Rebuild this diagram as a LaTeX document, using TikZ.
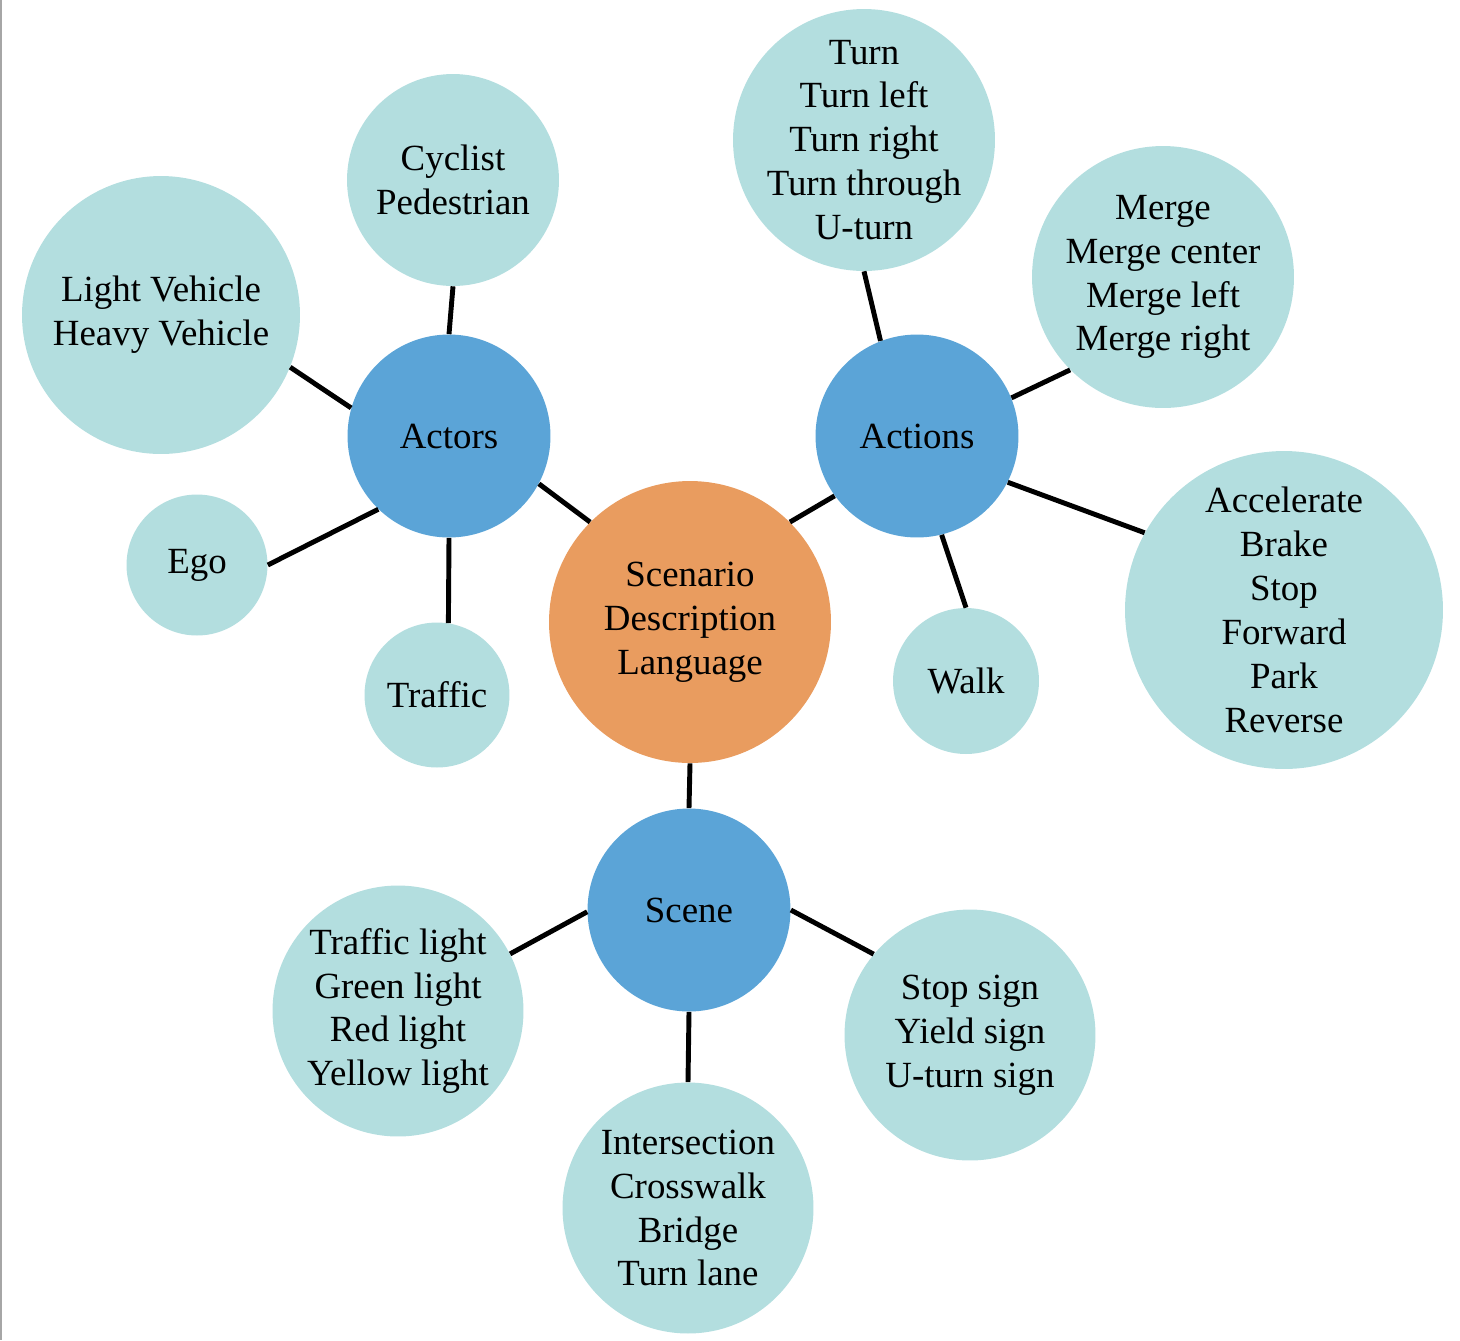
\documentclass[tikz,border=0pt]{standalone}
\usepackage{fontspec}
\setmainfont{Liberation Serif}
\usepackage{tikz}
\usetikzlibrary{positioning}
\usepackage{xcolor}
\definecolor{leafteal}{HTML}{B3DEDF}
\definecolor{hubblue}{HTML}{5BA4D7}
\definecolor{rootorange}{HTML}{E99C5F}

\begin{document}
\begin{tikzpicture}[
  x=0.02cm, y=-0.02cm,
  blob/.style = {circle, inner sep=0pt, align=center,
                 font=\fontsize{21}{25}\selectfont},
  leaf/.style = {blob, fill=leafteal, minimum size=#1},
  hub/.style  = {blob, fill=hubblue, minimum size=4.06cm},
  root/.style = {blob, fill=rootorange, minimum size=5.64cm},
  wire/.style = {draw=black, line width=2.8pt},
]
\useasboundingbox (0,0) rectangle (1460,1340);
\draw[gray!70, line width=1.2pt] (1,0) -- (1,1340);

% ========== Centre ==========
\node[root] (sdl) at (690, 622) {Scenario\\Description\\Language};

\node[hub] (actors)  at (449, 436) {Actors};
\node[hub] (actions) at (917, 436) {Actions};
\node[hub] (scene)   at (689, 910) {Scene};

% ========== Actors (left) ==========
\node[leaf=4.24cm] (ped)   at (453, 180) {Cyclist\\Pedestrian};
\node[leaf=5.56cm] (veh)   at (161, 315) {Light Vehicle\\Heavy Vehicle};
\node[leaf=2.82cm] (ego)   at (197, 565) {Ego};
\node[leaf=2.90cm] (traf)  at (437, 695) {Traffic};

% ========== Actions (right) ==========
% (five lines: negative inner sep keeps the circle at its set size)
\node[leaf=5.24cm, inner sep=-8pt] (turn) at (864, 140)
  {Turn\\Turn left\\Turn right\\Turn through\\U-turn};
\node[leaf=5.24cm] (merge) at (1163, 277) {Merge\\Merge center\\Merge left\\Merge right};
\node[leaf=6.36cm] (drive) at (1284, 610) {Accelerate\\Brake\\Stop\\Forward\\Park\\Reverse};
\node[leaf=2.92cm] (walk)  at (966, 681) {Walk};

% ========== Scene (bottom) ==========
\node[leaf=5.02cm] (light) at (398, 1011) {Traffic light\\Green light\\Red light\\Yellow light};
\node[leaf=5.02cm] (road)  at (688, 1208) {Intersection\\Crosswalk\\Bridge\\Turn lane};
\node[leaf=5.02cm] (sign)  at (970, 1035) {Stop sign\\Yield sign\\U-turn sign};

% ========== Connections (border to border) ==========
\draw[wire] (sdl.135)  -- (actors.-28);
\draw[wire] (sdl.45)   -- (actions.216);
\draw[wire] (sdl.south) -- (scene.north);

\draw[wire] (actors.90)  -- (ped.south);
\draw[wire] (actors.164) -- (veh.-22);
\draw[wire] (actors.226) -- (ego.east);
\draw[wire] (actors.south) -- (traf.81);

\draw[wire] (actions.111) -- (turn.south);
\draw[wire] (actions.22)  -- (merge.225);
\draw[wire] (actions.-27) -- (drive.151);
\draw[wire] (actions.-76) -- (walk.north);

\draw[wire] (scene.181)  -- (light.27);
\draw[wire] (scene.south) -- (road.north);
\draw[wire] (scene.east) -- (sign.140);

\end{tikzpicture}
\end{document}
